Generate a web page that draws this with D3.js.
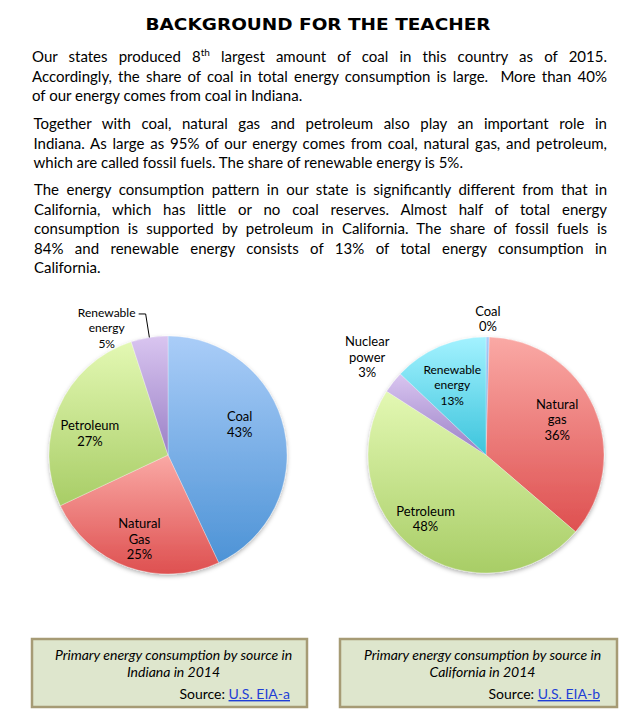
<!DOCTYPE html>
<html lang="en">
<head>
    <meta charset="UTF-8">
    <title>Background for the teacher</title>
    <script src="https://d3js.org/d3.v7.min.js"></script>
    <style>
        body { margin: 0; background: #fff; }
        svg text { fill: #000; }
        .body-text { font-family: Lato, "Open Sans", sans-serif; font-size: 15px; }
        .slice-label { font-family: Lato, "Open Sans", sans-serif; font-size: 13px; }
        .caption { font-family: Lato, "Open Sans", sans-serif; font-size: 14px; }
    </style>
</head>
<body>
    <svg width="637" height="717"></svg>

    <script>
        // Data
        const indianaSources = ["Coal", "Natural Gas", "Petroleum", "Renewable energy"];
        const indianaValues = [43, 25, 27, 5];
        const indianaLabels = [["Coal"], ["Natural", "Gas"], ["Petroleum"], ["Renewable", "energy"]];

        const californiaSources = ["Coal", "Natural gas", "Petroleum", "Nuclear power", "Renewable energy"];
        const californiaValues = [0.45, 36, 48, 3, 13];
        const californiaLabels = [["Coal"], ["Natural", "gas"], ["Petroleum"], ["Nuclear", "power"], ["Renewable", "energy"]];

        const paragraphs = [
            ["Our states produced 8|th| largest amount of coal in this country as of 2015.",
             "Accordingly, the share of coal in total energy consumption is large.  More than 40%",
             "of our energy comes from coal in Indiana."],
            ["Together with coal, natural gas and petroleum also play an important role in",
             "Indiana. As large as 95% of our energy comes from coal, natural gas, and petroleum,",
             "which are called fossil fuels. The share of renewable energy is 5%."],
            ["The energy consumption pattern in our state is significantly different from that in",
             "California, which has little or no coal reserves. Almost half of total energy",
             "consumption is supported by petroleum in California. The share of fossil fuels is",
             "84% and renewable energy consists of 13% of total energy consumption in",
             "California."]
        ];

        const colors = {
            "Coal": ["#aacdf8", "#4d93d6"],
            "Natural Gas": ["#faa9a5", "#de5050"],
            "Natural gas": ["#faa9a5", "#de5050"],
            "Petroleum": ["#e3f8b3", "#a8cd66"],
            "Renewable energy": ["#d9c5f0", "#9a80c6"],
            "Nuclear power": ["#d9c5f0", "#9a80c6"]
        };
        const californiaColors = Object.assign({}, colors, { "Renewable energy": ["#a3f2ff", "#3cc4dc"] });

        const svg = d3.select("svg");
        svg.append("rect").attr("width", 637).attr("height", 717).attr("fill", "#fff");
        const defs = svg.append("defs");

        defs.append("filter").attr("id", "shadow")
            .attr("x", "-20%").attr("y", "-20%").attr("width", "140%").attr("height", "140%")
            .append("feDropShadow")
            .attr("dx", 0).attr("dy", 2).attr("stdDeviation", 2)
            .attr("flood-color", "#000").attr("flood-opacity", 0.3);

        // Title
        svg.append("text")
            .attr("x", 318).attr("y", 30)
            .attr("text-anchor", "middle")
            .attr("textLength", 345)
            .attr("lengthAdjust", "spacingAndGlyphs")
            .style("font-family", "DejaVu Sans, sans-serif")
            .style("font-weight", "bold")
            .style("font-size", "15px")
            .text("BACKGROUND FOR THE TEACHER");

        // Justified body text
        const paraTop = [62, 129, 195];
        const paraLeft = [32, 33.5, 34];
        const lineHeight = 19.6;
        const rightEdge = 607;

        paragraphs.forEach((lines, p) => {
            lines.forEach((line, i) => {
                const t = svg.append("text")
                    .attr("class", "body-text")
                    .attr("x", paraLeft[p])
                    .attr("y", paraTop[p] + i * lineHeight)
                    .attr("xml:space", "preserve");
                line.split("|").forEach((part, k) => {
                    const s = t.append("tspan").text(part);
                    if (k === 1) s.attr("dy", -6).style("font-size", "10px");
                    if (k === 2) s.attr("dy", 6);
                });
                if (i < lines.length - 1) {
                    const natural = t.node().getComputedTextLength();
                    const spaces = (line.match(/ /g) || []).length;
                    const ws = (rightEdge - paraLeft[p] - natural) / spaces;
                    t.attr("word-spacing", ws);
                }
            });
        });

        // Pie drawing
        function drawPie(cx, cy, r, sources, values, labels, cols, labelPos, id) {
            const pie = d3.pie().sort(null).value(d => d)(values);
            const arc = d3.arc().innerRadius(0).outerRadius(r);
            const g = svg.append("g").attr("transform", `translate(${cx},${cy})`);

            pie.forEach((d, i) => {
                const grad = defs.append("linearGradient")
                    .attr("id", `${id}-g${i}`)
                    .attr("x1", 0).attr("y1", 0).attr("x2", 0).attr("y2", 1);
                grad.append("stop").attr("offset", "0%").attr("stop-color", cols[sources[i]][0]);
                grad.append("stop").attr("offset", "100%").attr("stop-color", cols[sources[i]][1]);
            });

            g.append("g").attr("filter", "url(#shadow)")
                .selectAll("path")
                .data(pie)
                .join("path")
                .attr("d", arc)
                .attr("fill", (d, i) => `url(#${id}-g${i})`)
                .attr("stroke", "#fff")
                .attr("stroke-opacity", 0.5)
                .attr("stroke-width", 0.6);

            const total = d3.sum(values);
            pie.forEach((d, i) => {
                const pos = labelPos[i];
                const mid = (d.startAngle + d.endAngle) / 2;
                const rr = r * pos.r;
                let x = Math.sin(mid) * rr + (pos.dx || 0);
                let y = -Math.cos(mid) * rr + (pos.dy || 0);
                const lines = labels[i].concat([Math.round(d.data / total * 100) + "%"]);
                const lh = 15.5;
                const fs = pos.fs || 13;

                if (pos.leader) {
                    // elbow leader line from slice edge
                    const ex = Math.sin(mid) * r, ey = -Math.cos(mid) * r;
                    const bx = Math.sin(mid) * r * pos.leader, by = -Math.cos(mid) * r * pos.leader;
                    g.append("polyline")
                        .attr("points", `${ex},${ey} ${bx},${by} ${bx - 7},${by}`)
                        .attr("fill", "none").attr("stroke", "#000").attr("stroke-width", 1);
                    x = bx - 7 - 32;
                    y = by + lh - 1;
                }

                const t = g.append("text")
                    .attr("class", "slice-label")
                    .attr("text-anchor", "middle")
                    .style("font-size", fs + "px");
                lines.forEach((ln, k) => {
                    t.append("tspan")
                        .attr("x", x)
                        .attr("y", y - (lines.length - 1) * lh / 2 + k * lh + 4)
                        .text(ln);
                });
            });
        }

        drawPie(168, 455, 119, indianaSources, indianaValues, indianaLabels, colors,
            [{ r: 0.66, dx: -5, dy: -13 }, { r: 0.66, dx: -2, dy: 11 }, { r: 0.66, dx: -6, dy: 10 }, { r: 1.2, leader: 1.2, fs: 12 }], "in");

        drawPie(486, 455, 118, californiaSources, californiaValues, californiaLabels, californiaColors,
            [{ r: 1.15 }, { r: 0.66, dy: -3 }, { r: 0.66, dx: -14, dy: 2 }, { r: 1.3, dx: 2, dy: -3 }, { r: 0.66, dx: -3, dy: 2, fs: 12 }], "ca");

        // Caption boxes
        function caption(x, w, line1, line2, src) {
            const g = svg.append("g");
            g.append("rect")
                .attr("x", x).attr("y", 639).attr("width", w).attr("height", 68)
                .attr("fill", "#dee6cd").attr("stroke", "#a69b75").attr("stroke-width", 2.5);
            const mid = x + w / 2 + 4;
            g.append("text").attr("class", "caption").attr("x", mid).attr("y", 660)
                .attr("text-anchor", "middle").style("font-style", "italic").text(line1);
            g.append("text").attr("class", "caption").attr("x", mid).attr("y", 677)
                .attr("text-anchor", "middle").style("font-style", "italic").text(line2);
            const s = g.append("text").attr("class", "caption")
                .attr("x", x + w - 17).attr("y", 699).attr("text-anchor", "end");
            s.append("tspan").text("Source: ");
            s.append("tspan").style("fill", "#1f3fd6").style("text-decoration", "underline").text(src);
        }
        caption(32, 275, "Primary energy consumption by source in", "Indiana in 2014", "U.S. EIA-a");
        caption(340, 277, "Primary energy consumption by source in", "California in 2014", "U.S. EIA-b");
    </script>
</body>
</html>
